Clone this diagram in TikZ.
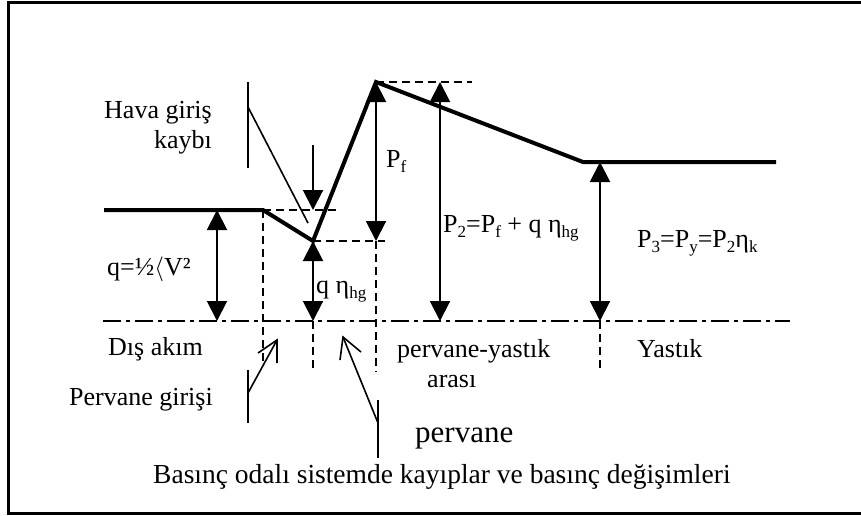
\documentclass[tikz,border=0pt]{standalone}
\usepackage{fontspec}
\setmainfont{Liberation Serif}
\usetikzlibrary{arrows.meta}
\newcommand\lsub[1]{\raisebox{-0.2em}{\fontsize{17}{17}\selectfont #1}}
\begin{document}
\begin{tikzpicture}[x=1pt,y=-1pt,
  lbl/.style={anchor=base west, inner sep=0pt, font=\fontsize{26}{30}\selectfont},
  lblr/.style={lbl, anchor=base east},
  thickline/.style={line width=4pt, line join=miter},
  dsh/.style={line width=2pt, dash pattern=on 8pt off 5pt},
  dashdot/.style={line width=2pt, dash pattern=on 18pt off 5pt on 4pt off 5pt},
  dim/.style={line width=2pt, {Triangle[width=20pt,length=20pt]}-{Triangle[width=20pt,length=20pt]}},
  sdim/.style={line width=2pt, -{Triangle[width=20pt,length=20pt]}},
  ptr/.style={line width=1.6pt}
]
\useasboundingbox (0,0) rectangle (861,515);
\draw[line width=2.5pt] (880,2.5) -- (8.5,2.5) -- (8.5,513.5) -- (880,513.5);

% key points
\coordinate (L0) at (104,210);
\coordinate (A) at (263,210);
\coordinate (B) at (313,241);
\coordinate (C) at (376,82);
\coordinate (D) at (583,162);
\coordinate (E) at (776,162);
\coordinate (base0) at (103,321);
\coordinate (base1) at (790,321);

% dash-dot baseline
\draw[dashdot] (base0) -- (base1);

% dashed helpers
\coordinate (A1) at (340,210);
\coordinate (A2) at (263,362);
\coordinate (B1) at (385,241);
\coordinate (B2) at (313,321);
\coordinate (B3) at (313,370);
\coordinate (C1) at (472,82);
\coordinate (C2) at (376,372);
\coordinate (P3b) at (600,321);
\coordinate (P3c) at (600,370);
\draw[dsh] (A) -- (A1);
\draw[dsh] (A) -- (A2);
\draw[dsh] (B) -- (B1);
\draw[dsh] (B2) -- (B3);
\draw[dsh] (C) -- (C1);
\draw[dsh] (376,241) -- (C2);
\draw[dsh] (P3b) -- (P3c);

% thick pressure line
\draw[thickline] (L0) -- (A) -- (B) -- (C) -- (D) -- (E);

% dimension arrows
\coordinate (q0) at (217,210);
\coordinate (q1) at (217,321);
\draw[dim] (q0) -- (q1);
\draw[dim] (B) -- (B2);
\coordinate (pf1) at (376,241);
\draw[dim] (C) -- (pf1);
\coordinate (p20) at (440,82);
\coordinate (p21) at (440,321);
\draw[dim] (p20) -- (p21);
\coordinate (p30) at (600,162);
\draw[dim] (p30) -- (P3b);
\coordinate (h0) at (313,145);
\coordinate (h1) at (313,210);
\draw[sdim] (h0) -- (h1);

% Hava giris pointer
\coordinate (hv0) at (248,82);
\coordinate (hv1) at (248,168);
\coordinate (hv2) at (248,107);
\coordinate (hv3) at (308,223);
\draw[ptr] (hv0) -- (hv1);
\draw[ptr] (hv2) -- (hv3);

% Pervane girisi pointer
\coordinate (pg0) at (248,370);
\coordinate (pg1) at (248,423);
\coordinate (pg2) at (248,393);
\coordinate (pg3) at (277,340);
\coordinate (pg4) at (277,363);
\coordinate (pg5) at (258,353);
\draw[ptr] (pg0) -- (pg1);
\draw[ptr] (pg2) -- (pg3);
\draw[ptr] (pg4) -- (pg3) -- (pg5);

% pervane pointer
\coordinate (pv0) at (378,400);
\coordinate (pv1) at (378,458);
\coordinate (pv2) at (378,423);
\coordinate (pv3) at (343,337);
\coordinate (pv4) at (340,360);
\coordinate (pv5) at (361,352);
\draw[ptr] (pv0) -- (pv1);
\draw[ptr] (pv2) -- (pv3);
\draw[ptr] (pv4) -- (pv3) -- (pv5);

% labels
\node[lblr] (hava) at (212,118) {Hava giriş};
\node[lblr] (kaybi) at (212,148) {kaybı};
\node[lbl] (pf) at (386,167) {P\lsub{f}};
\node[lbl] (p2) at (443,232) {P\lsub{2}=P\lsub{f} + q η\lsub{hg}};
\node[lbl] (p3) at (637,247) {P\lsub{3}=P\lsub{y}=P\lsub{2}η\lsub{k}};
\node[lbl] (q) at (107,275) {q=½$\langle$V²};
\node[lbl] (qhg) at (316,293) {q η\lsub{hg}};
\node[lbl] (dis) at (108,355) {Dış akım};
\node[lblr] (pgir) at (213,405) {Pervane girişi};
\node[lbl] (pya) at (397,357) {pervane-yastık};
\node[lbl] (ara) at (427,387) {arası};
\node[lbl] (yas) at (637,357) {Yastık};
\node[lbl, font=\fontsize{31}{34}\selectfont] (perv) at (415,442) {pervane};
\node[lbl, font=\fontsize{27.5}{30}\selectfont] (cap) at (153,483) {Basınç odalı sistemde kayıplar ve basınç değişimleri};
\end{tikzpicture}
\end{document}
